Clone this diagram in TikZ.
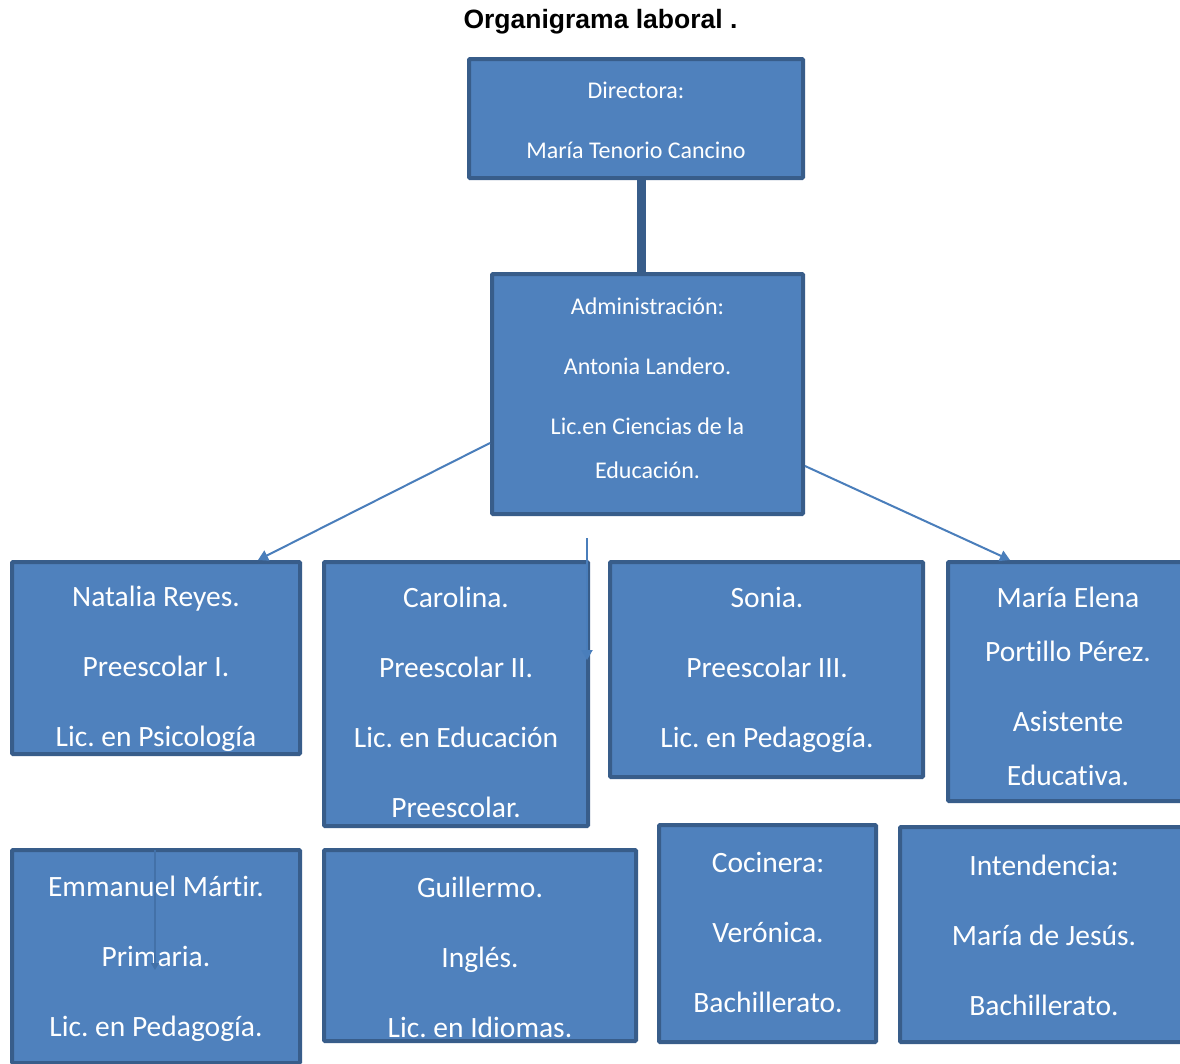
\documentclass[tikz,border=0pt]{standalone}
\usepackage{fontspec}
\setmainfont{Carlito}[Ligatures={NoCommon}]
\newfontfamily\titlefont{Liberation Sans}
\usetikzlibrary{arrows.meta}
\frenchspacing
\definecolor{boxfill}{HTML}{4F81BD}
\definecolor{boxline}{HTML}{385D8A}
\definecolor{arrowcol}{HTML}{4A7EBB}
\tikzset{
  orgbox/.style={draw=boxline, fill=boxfill, line width=4pt, rounded corners=1pt, inner sep=0pt},
  toptext/.style={text=white, align=center, inner sep=0pt, font=\frenchspacing\fontsize{24}{44}\selectfont},
  bottext/.style={text=white, align=center, inner sep=0pt, font=\frenchspacing\fontsize{29.5}{54}\selectfont},
  thinarrow/.style={draw=arrowcol, line width=2pt, -{Triangle[width=11pt,length=10pt]}},
  thickline/.style={draw=boxline, line width=9pt},
}
\begin{document}
\begin{tikzpicture}[x=1pt,y=-1pt]
\useasboundingbox (0,0) rectangle (1180,1063);
\fill[white] (0,0) rectangle (1180,1063);
% title
\node[font=\titlefont\bfseries\fontsize{26.5}{30}\selectfont] (title) at (600.5,21.5) {Organigrama laboral .};
% boxes
\node[orgbox, minimum width=334, minimum height=119] (dir) at (636,118.5) {};
\node[orgbox, minimum width=311, minimum height=240] (adm) at (647.5,394) {};
\node[orgbox, minimum width=288, minimum height=192] (nat) at (156,658) {};
\node[orgbox, minimum width=264, minimum height=264] (car) at (456,694) {};
\node[orgbox, minimum width=313, minimum height=215] (son) at (766.5,669.5) {};
\node[orgbox, minimum width=240, minimum height=239] (mel) at (1068,681.5) {};
\node[orgbox, minimum width=288, minimum height=213] (emm) at (156,956.5) {};
\node[orgbox, minimum width=312, minimum height=191] (gui) at (480,945.5) {};
\node[orgbox, minimum width=217, minimum height=217] (coc) at (767.5,933.5) {};
\node[orgbox, minimum width=288, minimum height=215] (int) at (1044,934.5) {};
% texts
\node[toptext] (tdir) at (636,120.5) {Directora:\\[16pt]María Tenorio Cancino};
\node[toptext] (tadm) at (647.5,388.5) {Administración:\\[16pt]Antonia Landero.\\[16pt]Lic.en Ciencias de la\\Educación.};
\node[bottext] (tnat) at (156,669) {Natalia Reyes.\\[16pt]Preescolar I.\\[16pt]Lic. en Psicología};
\node[bottext] (tcar) at (456,702) {Carolina.\\[16pt]Preescolar II.\\[16pt]Lic. en Educación\\[16pt]Preescolar.};
\node[bottext] (tson) at (767,669.5) {Sonia.\\[16pt]Preescolar III.\\[16pt]Lic. en Pedagogía.};
\node[bottext] (tmel) at (1068,686.5) {María Elena\\Portillo Pérez.\\[16pt]Asistente\\Educativa.};
\node[bottext] (temm) at (156,958.5) {Emmanuel Mártir.\\[16pt]Primaria.\\[16pt]Lic. en Pedagogía.};
\node[bottext] (tgui) at (480,957) {Guillermo.\\[16pt]Inglés.\\[16pt]Lic. en Idiomas.};
\node[bottext] (tcoc) at (768,932.5) {Cocinera:\\[16pt]Verónica.\\[16pt]Bachillerato.};
\node[bottext] (tint) at (1044,935) {Intendencia:\\[16pt]María de Jesús.\\[16pt]Bachillerato.};
% connectors
\draw[thickline] ([xshift=5pt]dir.south) -- ([xshift=-6.5pt]adm.north);
\draw[thinarrow] ([yshift=-49pt]adm.west) -- ([xshift=102pt]nat.north);
\draw[thinarrow] ([yshift=-72pt]adm.east) -- ([xshift=-58pt]mel.north);
\coordinate (vstart) at (587,538);
\coordinate (vend) at (587,660);
\draw[thinarrow] (vstart) -- (vend);
\coordinate (estart) at (155,850);
\coordinate (eend) at (155,970);
\draw[draw=arrowcol!90!black, line width=1.2pt, -{Triangle[width=8pt,length=7pt]}] (estart) -- (eend);
\end{tikzpicture}
\end{document}
